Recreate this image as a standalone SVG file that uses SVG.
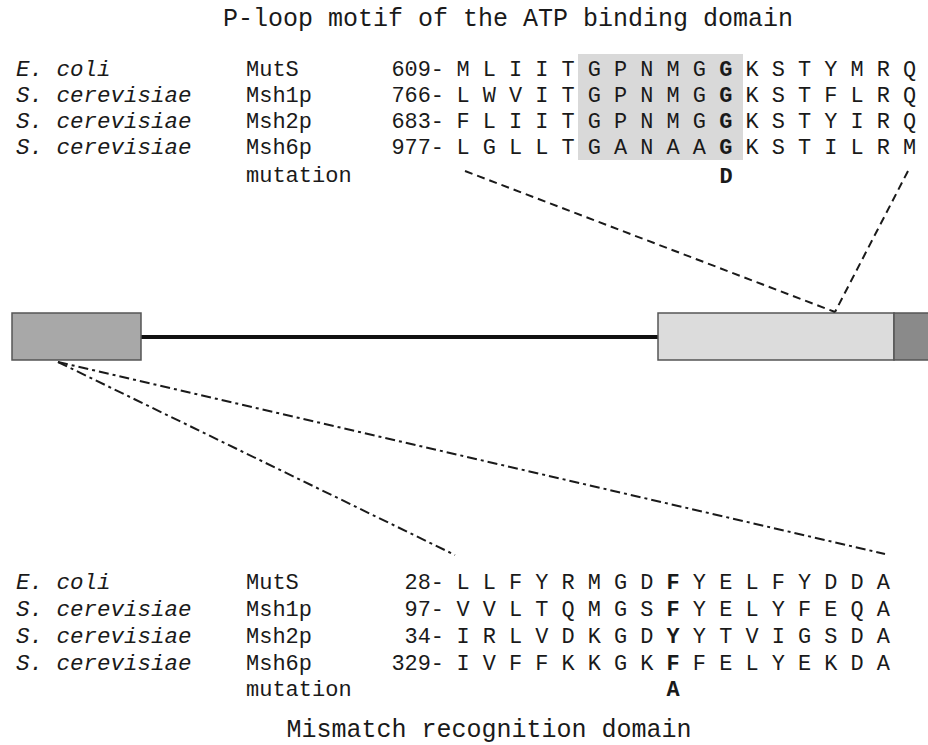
<svg xmlns="http://www.w3.org/2000/svg" width="928" height="745" viewBox="0 0 928 745">
<style>
text{font-family:"Liberation Mono","DejaVu Sans Mono",monospace;fill:#1a1a1a}
.t{font-size:25px}
.sp{font-size:22.5px;font-style:italic}
.pr{font-size:22px}
.num{font-size:21.9px;text-anchor:end}
.seq{font-size:21.9px}
.b{font-weight:bold}
.mut{font-size:21.9px;font-weight:bold;text-anchor:middle}
.dash{fill:none;stroke:#1a1a1a;stroke-width:2;stroke-dasharray:8 5}
.dd{fill:none;stroke:#1a1a1a;stroke-width:2;stroke-dasharray:10 4 3 4}
.box{stroke:#555;stroke-width:1.5}
</style>
<g id="title-top"><text class="t" x="508" y="26" text-anchor="middle">P-loop motif of the ATP binding domain</text></g>
<g id="alignment-top">
<rect x="578" y="54" width="165" height="106" fill="#d9d9d9"/>
<text class="sp" x="16" y="76">E. coli</text>
<text class="sp" x="16" y="102">S. cerevisiae</text>
<text class="sp" x="16" y="128">S. cerevisiae</text>
<text class="sp" x="16" y="154">S. cerevisiae</text>
<text class="pr" x="246" y="76">MutS</text>
<text class="pr" x="246" y="102">Msh1p</text>
<text class="pr" x="246" y="128">Msh2p</text>
<text class="pr" x="246" y="154">Msh6p</text>
<text class="pr" x="246" y="182">mutation</text>
<text class="num" x="444" y="76">609-</text>
<text class="num" x="444" y="102">766-</text>
<text class="num" x="444" y="128">683-</text>
<text class="num" x="444" y="154">977-</text>
<text class="seq" x="456.4" y="76">M L I I T G P N M G <tspan class="b">G</tspan> K S T Y M R Q</text>
<text class="seq" x="456.4" y="102">L W V I T G P N M G <tspan class="b">G</tspan> K S T F L R Q</text>
<text class="seq" x="456.4" y="128">F L I I T G P N M G <tspan class="b">G</tspan> K S T Y I R Q</text>
<text class="seq" x="456.4" y="154">L G L L T G A N A A <tspan class="b">G</tspan> K S T I L R M</text>
<text class="mut" x="726" y="183">D</text>
</g>
<g id="gene">
<line x1="141" y1="337" x2="658" y2="337" stroke="#111" stroke-width="4"/>
<rect class="box" x="12" y="313" width="129" height="47" fill="#a8a8a8"/>
<rect class="box" x="658" y="313" width="236" height="47" fill="#dcdcdc"/>
<rect class="box" x="894" y="313" width="40" height="47" fill="#8a8a8a"/>
</g>
<g id="connectors">
<line class="dash" x1="465" y1="171" x2="835" y2="312"/>
<line class="dash" x1="908" y1="171" x2="835" y2="312"/>
<line class="dd" x1="58" y1="362" x2="455" y2="555"/>
<line class="dd" x1="58" y1="362" x2="885" y2="554"/>
</g>
<g id="alignment-bottom">
<text class="sp" x="16" y="589">E. coli</text>
<text class="sp" x="16" y="616">S. cerevisiae</text>
<text class="sp" x="16" y="643">S. cerevisiae</text>
<text class="sp" x="16" y="670">S. cerevisiae</text>
<text class="pr" x="246" y="589">MutS</text>
<text class="pr" x="246" y="616">Msh1p</text>
<text class="pr" x="246" y="643">Msh2p</text>
<text class="pr" x="246" y="670">Msh6p</text>
<text class="pr" x="246" y="696">mutation</text>
<text class="num" x="444" y="589">28-</text>
<text class="num" x="444" y="616">97-</text>
<text class="num" x="444" y="643">34-</text>
<text class="num" x="444" y="670">329-</text>
<text class="seq" x="456.4" y="589">L L F Y R M G D <tspan class="b">F</tspan> Y E L F Y D D A</text>
<text class="seq" x="456.4" y="616">V V L T Q M G S <tspan class="b">F</tspan> Y E L Y F E Q A</text>
<text class="seq" x="456.4" y="643">I R L V D K G D <tspan class="b">Y</tspan> Y T V I G S D A</text>
<text class="seq" x="456.4" y="670">I V F F K K G K <tspan class="b">F</tspan> F E L Y E K D A</text>
<text class="mut" x="673" y="696">A</text>
</g>
<g id="title-bottom"><text class="t" x="489" y="737" text-anchor="middle">Mismatch recognition domain</text></g>
</svg>
